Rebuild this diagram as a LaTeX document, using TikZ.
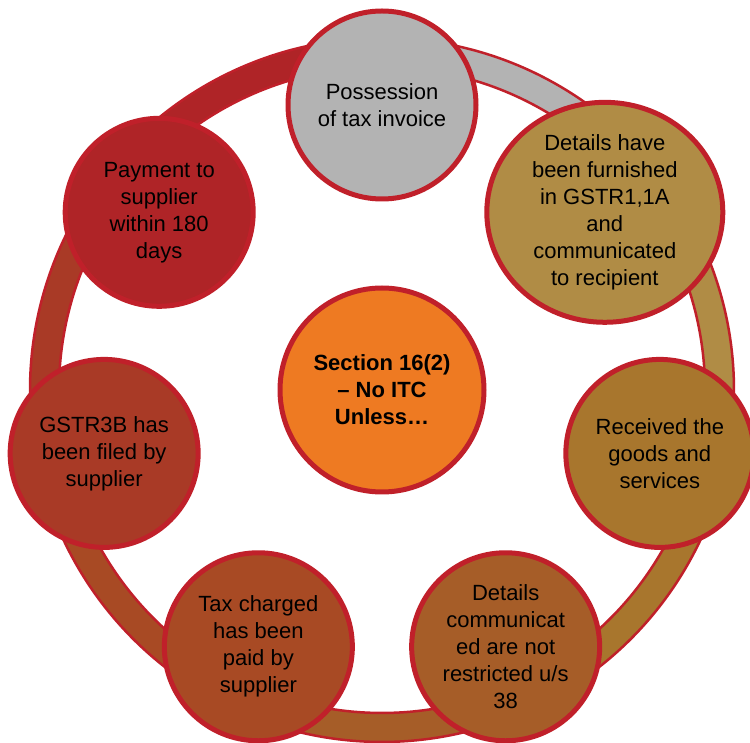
\documentclass[tikz,border=0pt]{standalone}
\usepackage{fontspec}
\setmainfont{Liberation Sans}
\usetikzlibrary{shapes.geometric}
\definecolor{ringred}{HTML}{C0202A}
\definecolor{cgrey}{HTML}{B3B3B3}
\definecolor{cgold}{HTML}{B08C45}
\definecolor{cochre}{HTML}{A8762D}
\definecolor{cbrown}{HTML}{A65D28}
\definecolor{crust}{HTML}{A84A24}
\definecolor{cbrick}{HTML}{A93A26}
\definecolor{cred}{HTML}{AF2427}
\definecolor{corange}{HTML}{EE7A22}
\tikzset{cond/.style={circle,draw=ringred,line width=5pt,minimum size=188pt,
    inner sep=0pt,align=center,text=black,font=\fontsize{22}{27}\selectfont}}

\begin{document}
\begin{tikzpicture}[x=1pt,y=1pt]
\useasboundingbox (0,0) rectangle (750,742);
\coordinate (c) at (382,352);
% Ring, one band per step
\foreach \a/\col [evaluate=\a as \b using \a-51.429] in
    {90/cgrey,38.571/cgold,-12.857/cochre,-64.286/cbrown,
     -115.714/crust,-167.143/cbrick,141.429/cred}
  \filldraw[fill=\col,draw=ringred,line width=2.5pt]
    ([shift={(\a:352)}]c) arc[start angle=\a,end angle=\b,radius=352]
    -- ([shift={(\b:323)}]c) arc[start angle=\b,end angle=\a,radius=323] -- cycle;
% Conditions
\node[cond,fill=cgrey] (invoice) at ([shift={(90:285)}]c) {Possession\\of tax invoice};
\node[cond,ellipse,minimum width=236pt,minimum height=191pt,fill=cgold] (furnished)
    at ([shift={(38.571:285)}]c) {Details have\\been furnished\\in GSTR1,1A\\and\\communicated\\to recipient};
\node[cond,fill=cochre] (received) at ([shift={(-12.857:285)}]c) {Received the\\goods and\\services};
\node[cond,fill=cbrown] (restricted) at ([shift={(-64.286:285)}]c) {Details\\communicat\\ed are not\\restricted u/s\\38};
\node[cond,fill=crust] (taxpaid) at ([shift={(-115.714:285)}]c) {Tax charged\\has been\\paid by\\supplier};
\node[cond,fill=cbrick] (gstr3b) at ([shift={(-167.143:285)}]c) {GSTR3B has\\been filed by\\supplier};
\node[cond,fill=cred] (payment) at ([shift={(141.429:285)}]c) {Payment to\\supplier\\within 180\\days};
% Centre
\node[cond,fill=corange,minimum size=204pt,font=\bfseries\fontsize{22}{27}\selectfont]
    (sec16) at (c) {Section 16(2)\\– No ITC\\Unless…};
\end{tikzpicture}
\end{document}
